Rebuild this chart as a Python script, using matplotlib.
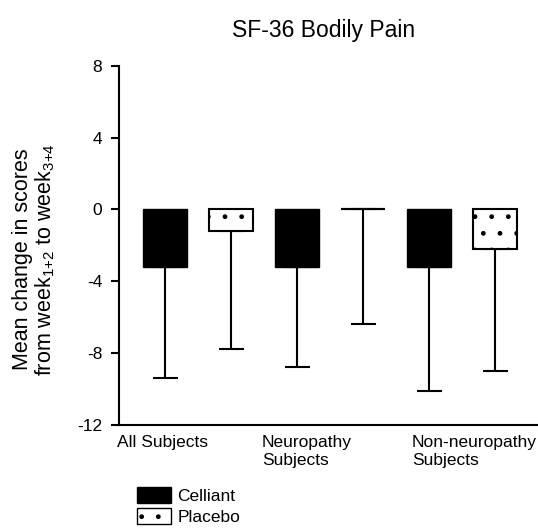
import matplotlib
matplotlib.use("Agg")
import matplotlib.pyplot as plt
from matplotlib.patches import Patch
import numpy as np

plt.rcParams['font.family'] = ['Liberation Sans', 'DejaVu Sans']
plt.rcParams['mathtext.fontset'] = 'custom'
plt.rcParams['mathtext.rm'] = 'Liberation Sans'
plt.rcParams['mathtext.it'] = 'Liberation Sans'
plt.rcParams['hatch.linewidth'] = 1.0

groups = ['All Subjects', 'Neuropathy\nSubjects', 'Non-neuropathy\nSubjects']
celliant = [-3.2, -3.2, -3.2]
placebo = [-1.2, 0.0, -2.2]
celliant_low = [-9.4, -8.8, -10.1]
placebo_low = [-7.8, -6.4, -9.0]

fig = plt.figure(figsize=(5.38, 5.31), dpi=100)
ax = fig.add_axes([0.221, 0.2, 0.779, 0.676])

xc = np.arange(len(groups)) * 2.0
xp = xc + 1.0
w = 0.67

ax.bar(xc, celliant, width=w, color='black', edgecolor='black', zorder=2)
ax.bar(xp, placebo, width=w, color='white', edgecolor='black', linewidth=1.5,
       hatch='.', zorder=2)

err_c = [np.array(celliant) - np.array(celliant_low), np.zeros(3)]
err_p = [np.array(placebo) - np.array(placebo_low), np.zeros(3)]
ax.errorbar(xc, celliant, yerr=err_c, fmt='none', ecolor='black',
            elinewidth=1.5, capsize=9, capthick=1.5, zorder=1)
ax.errorbar(xp, placebo, yerr=err_p, fmt='none', ecolor='black',
            elinewidth=1.5, capsize=9, capthick=1.5, zorder=1)
# zero-height placebo bar shows as a flat line
ax.hlines(0, xp[1] - w / 2, xp[1] + w / 2, color='black', lw=1.5, zorder=3)

ax.set_xlim(-0.7, 5.65)
ax.set_ylim(-12, 8)
ax.set_yticks([8, 4, 0, -4, -8, -12])
ax.set_yticklabels(['8', '4', '0', '-4', '-8', '-12'])
ax.tick_params(axis='y', length=6, width=1.5, labelsize=12.5, pad=6)
ax.set_xticks([])
for s in ['top', 'right']:
    ax.spines[s].set_visible(False)
for s in ['left', 'bottom']:
    ax.spines[s].set_linewidth(1.5)

label_x = [-0.73, 1.47, 3.74]
for lx, g in zip(label_x, groups):
    ax.text(lx, -12.55, g, ha='left', va='top', fontsize=12.5, linespacing=1.3)

ax.set_ylabel('Mean change in scores\nfrom week$_{1{+}2}$ to week$_{3{+}4}$',
              fontsize=15.5, linespacing=1.0)
ax.yaxis.set_label_coords(-0.148, 0.46)
fig.text(0.602, 0.943, 'SF-36 Bodily Pain', ha='center', va='center', fontsize=16.5)

handles = [Patch(facecolor='black', edgecolor='black', label='Celliant'),
           Patch(facecolor='white', edgecolor='black', hatch='.', label='Placebo')]
fig.legend(handles=handles, loc='upper left',
           bbox_to_anchor=(0.254, 1 - 487 / 531), bbox_transform=fig.transFigure,
           frameon=False, fontsize=12.5, handlelength=2.0, handleheight=1.0,
           handletextpad=0.35, labelspacing=0.25, borderaxespad=0, borderpad=0)

fig.savefig('out.png', dpi=100)
